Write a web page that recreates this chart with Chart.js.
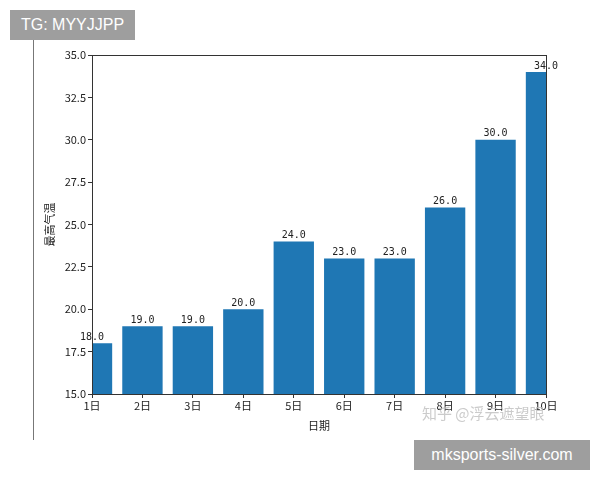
<!DOCTYPE html>
<html>
<head>
<meta charset="utf-8">
<script src="https://cdn.jsdelivr.net/npm/chart.js@4"></script>
<style>
  body { margin: 0; background: #fff; }
  #wrap { position: relative; width: 600px; height: 480px; }
  #myChart { position: absolute; left: 0; top: 0; }
  .tag {
    position: absolute; background: #9e9e9e; color: #fff; text-align: center;
    font-family: "Liberation Sans", Arial, sans-serif; font-size: 16px;
    line-height: 30px; box-sizing: border-box;
  }
  #frame { position: absolute; left: 33px; top: 40px; height: 400px; border-left: 1px solid #777; }
  #mark {
    position: absolute; left: 422px; top: 402px; color: rgba(190,190,190,0.8);
    font-family: "Noto Sans CJK SC", sans-serif; font-size: 15px;
  }
</style>
</head>
<body>
<div id="wrap">
  <canvas id="myChart" width="600" height="480"></canvas>
  <div id="frame"></div>
  <div class="tag" style="left:10px;top:10px;width:125px;">TG: MYYJJPP</div>
  <div class="tag" style="left:414px;top:440px;width:176px;">mksports-silver.com</div>
  <div id="mark">知乎 @浮云遮望眼</div>
</div>
<script>
// Data
const days = ["1日", "2日", "3日", "4日", "5日", "6日", "7日", "8日", "9日", "10日"];
const maxTemp = [18, 19, 19, 20, 24, 23, 23, 26, 30, 34];
const yTicks = [15, 17.5, 20, 22.5, 25, 27.5, 30, 32.5, 35];

const tickFont = { family: "'Noto Sans CJK SC', sans-serif", size: 11 };

// Value labels above bars + box around the plot
const barLabels = {
  id: "barLabels",
  afterDatasetsDraw(chart) {
    const ctx = chart.ctx;
    const meta = chart.getDatasetMeta(0);
    ctx.save();
    ctx.fillStyle = "#222";
    ctx.font = "10px 'DejaVu Sans Mono', monospace";
    ctx.textAlign = "center";
    ctx.textBaseline = "bottom";
    meta.data.forEach((bar, i) => {
      ctx.fillText(maxTemp[i].toFixed(1), bar.x, bar.y - 1);
    });
    const a = chart.chartArea;
    ctx.strokeStyle = "#333";
    ctx.lineWidth = 1;
    ctx.strokeRect(a.left + 0.5, a.top + 0.5, a.right - a.left, a.bottom - a.top);
    ctx.restore();
  },
};

new Chart(document.getElementById("myChart"), {
  type: "bar",
  data: {
    labels: days,
    datasets: [{
      data: maxTemp,
      backgroundColor: "#1f77b4",
      categoryPercentage: 1,
      barPercentage: 0.8,
    }],
  },
  options: {
    responsive: false,
    animation: false,
    layout: { padding: { left: 40, top: 55, right: 54, bottom: 48 } },
    plugins: { legend: { display: false }, tooltip: { enabled: false } },
    scales: {
      x: {
        offset: false,
        grid: { drawOnChartArea: false, tickLength: 4, color: "#333", offset: false },
        border: { color: "#333" },
        ticks: { color: "#222", font: tickFont, padding: 1, maxRotation: 0 },
        title: { display: true, text: "日期", color: "#222", font: tickFont, padding: 0 },
        afterFit(scale) { scale.height = 38; },
      },
      y: {
        min: 15,
        max: 35,
        afterBuildTicks(scale) { scale.ticks = yTicks.map((v) => ({ value: v })); },
        grid: { drawOnChartArea: false, tickLength: 4, color: "#333" },
        border: { color: "#333" },
        ticks: { color: "#222", font: tickFont, padding: 2, callback: (v) => v.toFixed(1) },
        title: { display: true, text: "最高气温", color: "#222", font: tickFont, padding: { top: 3, bottom: 0 } },
        afterFit(scale) { scale.width = 52; },
      },
    },
  },
  plugins: [barLabels],
});
</script>
</body>
</html>
